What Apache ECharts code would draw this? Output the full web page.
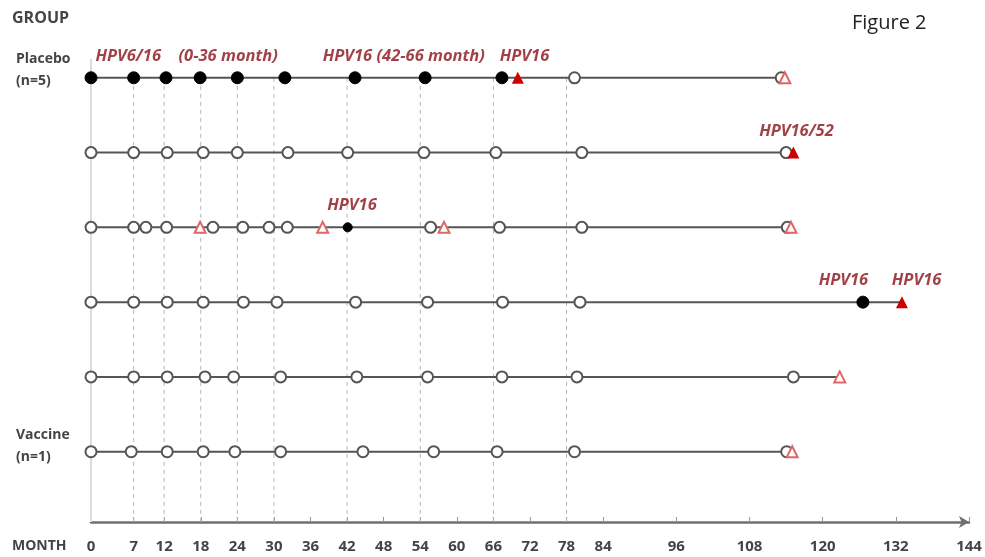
<!DOCTYPE html>
<html>
<head>
<meta charset="utf-8">
<script src="https://cdn.jsdelivr.net/npm/echarts@6/dist/echarts.min.js"></script>
<style>
  html, body { margin: 0; padding: 0; background: #fff; }
  #chart { width: 985px; height: 557px; }
</style>
</head>
<body>
<div id="chart"></div>
<script>
// month values per subject row (row 1 = top)
const openCircles = [
  [79.3, 113.2],
  [0, 7, 12.5, 18.4, 24, 32.3, 42.1, 54.6, 66.4, 80.5, 114],
  [0, 7, 9, 12.4, 20, 24.9, 29.2, 32.2, 55.7, 67, 80.5, 114.2],
  [0, 7, 12.5, 18.4, 25, 30.5, 43.4, 55.2, 67.5, 80.2],
  [0, 7, 12.5, 18.7, 23.4, 31.1, 43.6, 55.2, 67.4, 79.7, 115.2],
  [0, 6.6, 12.5, 18.4, 23.6, 31.1, 44.6, 56.2, 66.6, 79.3, 114.1]
]
const filledCircles = [
  [0, 7, 12.3, 17.9, 24, 31.8, 43.3, 54.8, 67.4],
  [],
  [42.1],
  [126.6],
  [],
  []
]
const openTriangles = [
  [113.8],
  [],
  [17.9, 38, 57.9, 114.8],
  [],
  [122.8],
  [115]
]
const filledTriangles = [
  [70],
  [115.2],
  [],
  [133],
  [],
  []
]
const visitMonths = [7, 12, 18, 24, 30, 42, 54, 66, 78]
const tickMonths = [0, 7, 12, 18, 24, 30, 36, 42, 48, 54, 60, 66, 72, 78, 84, 96, 108, 120, 132, 144]

const annMonths = [6.1, 22.5, 51.3, 71.1, 115.7, 42.8, 123.4, 135.4]
const annRows = [1, 1, 1, 1, 2, 3, 4, 4]
const annTexts = ['HPV6/16', '(0-36 month)', 'HPV16 (42-66 month)', 'HPV16', 'HPV16/52', 'HPV16', 'HPV16', 'HPV16']

const Y_MAX = 6.94
const font = '"Open Sans", "Noto Sans", sans-serif'

const toPoints = (rows) => {
  const out = []
  rows.forEach((list, i) => list.forEach(m => out.push([m, i + 1])))
  return out
}

const series = []

// light solid baseline at month 0
series.push({
  type: 'line', silent: true, symbol: 'none', z: 1,
  data: [[0, 0.75], [0, Y_MAX]],
  lineStyle: { color: '#dcdcdc', width: 2 }
})

// dashed visit guides
visitMonths.forEach(m => {
  series.push({
    type: 'line', silent: true, symbol: 'none', z: 1,
    data: [[m, 1], [m, Y_MAX]],
    lineStyle: { color: '#b5b5b5', width: 1, type: [4, 4] }
  })
})

// follow-up lines per row
openCircles.forEach((_, i) => {
  const all = [].concat(openCircles[i], filledCircles[i], openTriangles[i], filledTriangles[i])
  series.push({
    type: 'line', silent: true, symbol: 'none', z: 2,
    data: [[0, i + 1], [Math.max(...all), i + 1]],
    lineStyle: { color: '#555', width: 2 }
  })
})

series.push({
  type: 'scatter', z: 3,
  data: toPoints(openCircles),
  symbol: 'circle', symbolSize: 11,
  itemStyle: { color: '#fff', borderColor: '#555', borderWidth: 2, opacity: 1 }
})

series.push({
  type: 'scatter', z: 4,
  data: toPoints(filledCircles),
  symbol: 'circle',
  symbolSize: (v) => v[1] === 3 ? 9 : 12,
  itemStyle: { color: '#000', borderColor: '#000', borderWidth: 1, opacity: 1 }
})

series.push({
  type: 'scatter', z: 5,
  data: toPoints(openTriangles),
  symbol: 'triangle', symbolSize: 11,
  itemStyle: { color: '#fff', borderColor: '#e06666', borderWidth: 2, opacity: 1 }
})

series.push({
  type: 'scatter', z: 5,
  data: toPoints(filledTriangles),
  symbol: 'triangle', symbolSize: 12,
  itemStyle: { color: '#d00000', opacity: 1 }
})

// red annotations above rows
series.push({
  type: 'scatter', z: 6, silent: true,
  symbolSize: 0,
  data: annMonths.map((m, i) => [m, annRows[i] - 0.29, annTexts[i]]),
  label: {
    show: true, position: 'inside',
    formatter: (p) => p.value[2],
    color: '#8a1016', fontFamily: font, fontSize: 16.5,
    fontWeight: 'bold', fontStyle: 'italic'
  }
})

const chart = echarts.init(document.getElementById('chart'), null, { renderer: 'canvas' })

chart.setOption({
  animation: false,
  backgroundColor: '#fff',
  grid: { left: 91, right: 16, top: 3, bottom: 35 },
  xAxis: {
    type: 'value', min: 0, max: 144,
    splitLine: { show: false },
    axisLine: {
      show: true, onZero: false, symbol: ['none', 'arrow'], symbolSize: [9, 10],
      lineStyle: { color: '#707070', width: 2.5 }
    },
    axisTick: {
      show: true, inside: true, length: 5, customValues: tickMonths,
      lineStyle: { color: '#999', width: 1 }
    },
    axisLabel: {
      customValues: tickMonths, margin: 17,
      color: '#444', fontFamily: font, fontSize: 15, fontWeight: 'bold'
    }
  },
  yAxis: {
    type: 'value', min: 0, max: Y_MAX, inverse: true, show: false,
    splitLine: { show: false }
  },
  graphic: [
    { type: 'text', left: 12, top: 10, style: { text: 'GROUP', fill: '#444', font: 'bold 16px ' + font } },
    { type: 'text', left: 852, top: 13, style: { text: 'Figure 2', fill: '#222', font: '20px ' + font } },
    { type: 'text', left: 16, top: 48, style: { text: 'Placebo\n(n=5)', fill: '#444', font: 'bold 14px ' + font, lineHeight: 22 } },
    { type: 'text', left: 16, top: 424, style: { text: 'Vaccine\n(n=1)', fill: '#444', font: 'bold 14px ' + font, lineHeight: 22 } },
    { type: 'text', left: 12, top: 539, style: { text: 'MONTH', fill: '#444', font: 'bold 14px ' + font } }
  ],
  series
})
</script>
</body>
</html>
